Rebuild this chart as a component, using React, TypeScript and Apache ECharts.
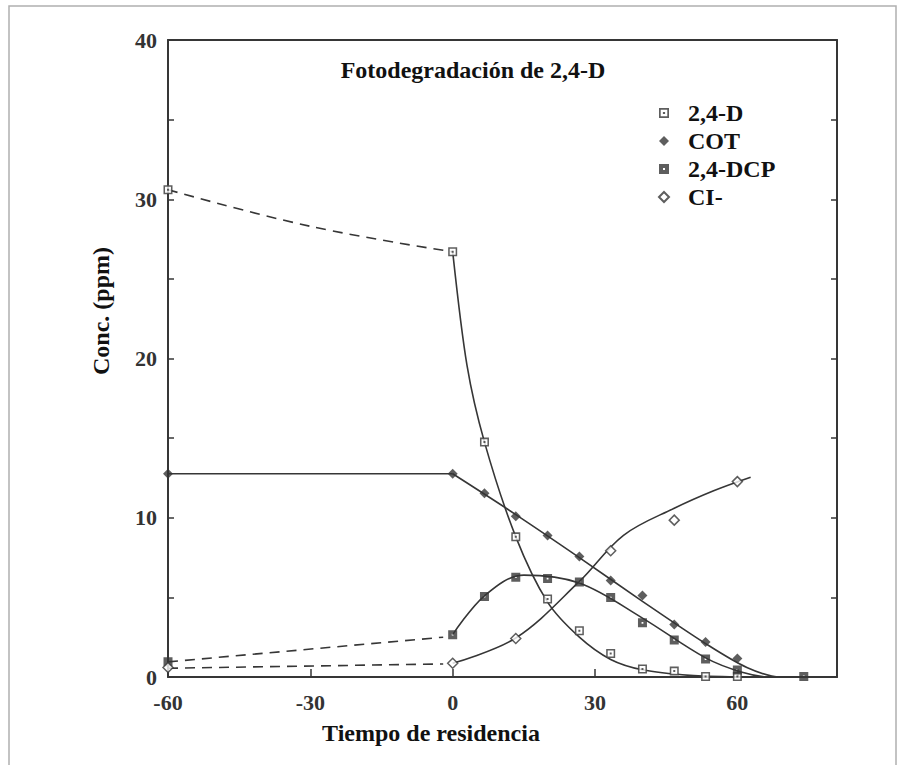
import React, { useEffect, useRef } from 'react';
import * as echarts from 'echarts';

// ---- measured points ----
const d24X = [-60, 0, 6.7, 13.3, 20, 26.7, 33.3, 40, 46.7, 53.3, 60];
const d24Y = [30.6, 26.7, 14.75, 8.8, 4.9, 2.9, 1.47, 0.5, 0.37, 0.03, 0.03];

const cotX = [-60, 0, 6.7, 13.3, 20, 26.7, 33.3, 40, 46.7, 53.3, 60];
const cotY = [12.76, 12.76, 11.54, 10.1, 8.88, 7.56, 6.06, 5.11, 3.3, 2.2, 1.16];

const dcpX = [-60, 0, 6.7, 13.3, 20, 26.7, 33.3, 40, 46.7, 53.3, 60, 74];
const dcpY = [0.95, 2.66, 5.05, 6.27, 6.18, 5.97, 4.99, 3.4, 2.33, 1.13, 0.44, 0.03];

const clX = [-60, 0, 13.3, 33.3, 46.7, 60];
const clY = [0.6, 0.86, 2.42, 7.93, 9.85, 12.27];

// ---- fitted curves ----
const d24DashX = [-60, -30, 0];
const d24DashY = [30.6, 28.3, 26.7];
const d24FitX = [0, 3, 6.7, 13.3, 20, 26.7, 33.3, 40, 50, 60];
const d24FitY = [26.7, 19.6, 14.75, 8.8, 4.7, 2.5, 1.1, 0.45, 0.1, 0];

const cotFlatX = [-60, 0];
const cotFlatY = [12.76, 12.76];
const cotFitX = [0, 13.3, 26.7, 40, 53.3, 62, 69, 74];
const cotFitY = [12.76, 10.2, 7.5, 4.75, 2.1, 0.6, 0, 0];

const dcpDashX = [-60, -2];
const dcpDashY = [0.95, 2.5];
const dcpFitX = [0, 6.7, 15, 26.7, 40, 53.3, 61, 67, 74];
const dcpFitY = [2.66, 5.1, 6.4, 5.9, 3.7, 1.2, 0.3, 0, 0];

const clDashX = [-60, -2];
const clDashY = [0.55, 0.82];
const clFitX = [0, 13.3, 26.7, 36, 46.7, 55, 62.8];
const clFitY = [0.86, 2.45, 6.0, 8.9, 10.6, 11.7, 12.55];

const xTickLabels = [-60, -30, 0, 30, 60];
const yTickLabels = [0, 10, 20, 30, 40];

const seriesNames = ['2,4-D', 'COT', '2,4-DCP', 'CI-'];

const zip = (xs: number[], ys: number[]) => xs.map((x, i) => [x, ys[i]]);

const INK = '#363636';
const FONT = "'Liberation Serif', 'Times New Roman', serif";

const openSquare = 'path://M0,0H10V10H0Z M1.7,1.7V8.3H8.3V1.7Z M3.9,3.9H6.1V6.1H3.9Z';
const filledSquare = 'path://M0,0H10V10H0Z M4,4V6H6V4Z';

function curve(name: string, xs: number[], ys: number[], dashed: boolean, smooth: number | false) {
  return {
    name,
    type: 'line',
    data: zip(xs, ys),
    showSymbol: false,
    symbol: 'none',
    smooth,
    lineStyle: { color: INK, width: 1.6, type: dashed ? [10, 7] : 'solid' },
    z: 2,
    silent: true,
  };
}

export default function App() {
  const ref = useRef<HTMLDivElement>(null);
  useEffect(() => {
    document.body.style.margin = '0';
    const chart = echarts.init(ref.current as HTMLDivElement, null, { renderer: 'svg' });
    const option: any = {
      animation: false,
      backgroundColor: '#fff',
      grid: { left: 168, right: 67, top: 40, bottom: 88, containLabel: false },
      xAxis: [
        {
          type: 'value',
          min: -60,
          max: 81,
          interval: 30,
          axisLine: { onZero: false, lineStyle: { color: INK, width: 2 } },
          axisTick: { inside: true, length: 8, lineStyle: { color: INK, width: 1.5 } },
          splitLine: { show: false },
          axisLabel: {
            margin: 14,
            color: '#333',
            fontFamily: FONT,
            fontWeight: 'bold',
            fontSize: 22,
            showMaxLabel: false,
            formatter: (v: number) => (xTickLabels.includes(v) ? String(v) : ''),
          },
        },
        {
          type: 'value',
          position: 'top',
          min: -60,
          max: 81,
          interval: 30,
          axisLine: { show: true, onZero: false, lineStyle: { color: INK, width: 2 } },
          axisTick: { show: false },
          axisLabel: { show: false },
          splitLine: { show: false },
        },
      ],
      yAxis: [
        {
          type: 'value',
          min: 0,
          max: 40,
          interval: 5,
          axisLine: { show: true, onZero: false, lineStyle: { color: INK, width: 2 } },
          axisTick: { inside: true, length: 6, lineStyle: { color: INK, width: 1.5 } },
          splitLine: { show: false },
          axisLabel: {
            margin: 11,
            color: '#333',
            fontFamily: FONT,
            fontWeight: 'bold',
            fontSize: 22,
            formatter: (v: number) => (yTickLabels.includes(v) ? String(v) : ''),
          },
        },
        {
          type: 'value',
          position: 'right',
          min: 0,
          max: 40,
          interval: 5,
          axisLine: { show: true, onZero: false, lineStyle: { color: INK, width: 2 } },
          axisTick: { inside: true, length: 6, lineStyle: { color: INK, width: 1.5 } },
          axisLabel: { show: false },
          splitLine: { show: false },
        },
      ],
      legend: {
        data: seriesNames,
        orient: 'vertical',
        left: 658,
        top: 101,
        padding: 0,
        itemGap: 4,
        itemWidth: 10,
        itemHeight: 10,
        textStyle: {
          fontFamily: FONT,
          fontWeight: 'bold',
          fontSize: 24,
          color: '#111',
          lineHeight: 24,
          padding: [0, 0, 0, 14],
        },
      },
      graphic: [
        {
          type: 'rect',
          shape: { x: 9, y: 6, width: 887, height: 780 },
          style: { fill: 'none', stroke: '#b0b0b0', lineWidth: 1.5 },
          silent: true,
          z: -10,
        },
        {
          type: 'text',
          x: 473,
          y: 70,
          style: {
            text: 'Fotodegradación de 2,4-D',
            font: `bold 24px ${FONT}`,
            fill: '#111',
            align: 'center',
            verticalAlign: 'middle',
          },
        },
        {
          type: 'text',
          x: 431,
          y: 733,
          style: {
            text: 'Tiempo de residencia',
            font: `bold 24px ${FONT}`,
            fill: '#111',
            align: 'center',
            verticalAlign: 'middle',
          },
        },
        {
          type: 'text',
          x: 101,
          y: 311,
          rotation: Math.PI / 2,
          style: {
            text: 'Conc. (ppm)',
            font: `bold 24px ${FONT}`,
            fill: '#111',
            align: 'center',
            verticalAlign: 'middle',
          },
        },
      ],
      series: [
        curve('d24-dash', d24DashX, d24DashY, true, 0.4),
        curve('d24-fit', d24FitX, d24FitY, false, 0.3),
        curve('cot-flat', cotFlatX, cotFlatY, false, false),
        curve('cot-fit', cotFitX, cotFitY, false, 0.3),
        curve('dcp-dash', dcpDashX, dcpDashY, true, false),
        curve('dcp-fit', dcpFitX, dcpFitY, false, 0.35),
        curve('cl-dash', clDashX, clDashY, true, false),
        curve('cl-fit', clFitX, clFitY, false, 0.35),
        {
          name: 'd24-under',
          type: 'scatter',
          data: zip(d24X, d24Y),
          symbol: 'rect',
          symbolSize: 8,
          itemStyle: { color: '#fff' },
          z: 3,
          silent: true,
        },
        {
          name: seriesNames[0],
          type: 'scatter',
          data: zip(d24X, d24Y),
          symbol: openSquare,
          symbolSize: 9,
          itemStyle: { color: INK },
          z: 4,
        },
        {
          name: seriesNames[1],
          type: 'scatter',
          data: zip(cotX, cotY),
          symbol: 'diamond',
          symbolSize: 10,
          itemStyle: { color: INK },
          z: 4,
        },
        {
          name: seriesNames[2],
          type: 'scatter',
          data: zip(dcpX, dcpY),
          symbol: filledSquare,
          symbolSize: 9,
          itemStyle: { color: INK },
          z: 4,
        },
        {
          name: seriesNames[3],
          type: 'scatter',
          data: zip(clX, clY),
          symbol: 'diamond',
          symbolSize: 10,
          itemStyle: { color: '#fff', borderColor: INK, borderWidth: 1.5 },
          z: 4,
        },
      ],
    };
    chart.setOption(option);
    return () => chart.dispose();
  }, []);
  return <div ref={ref} style={{ width: 904, height: 765 }} />;
}
